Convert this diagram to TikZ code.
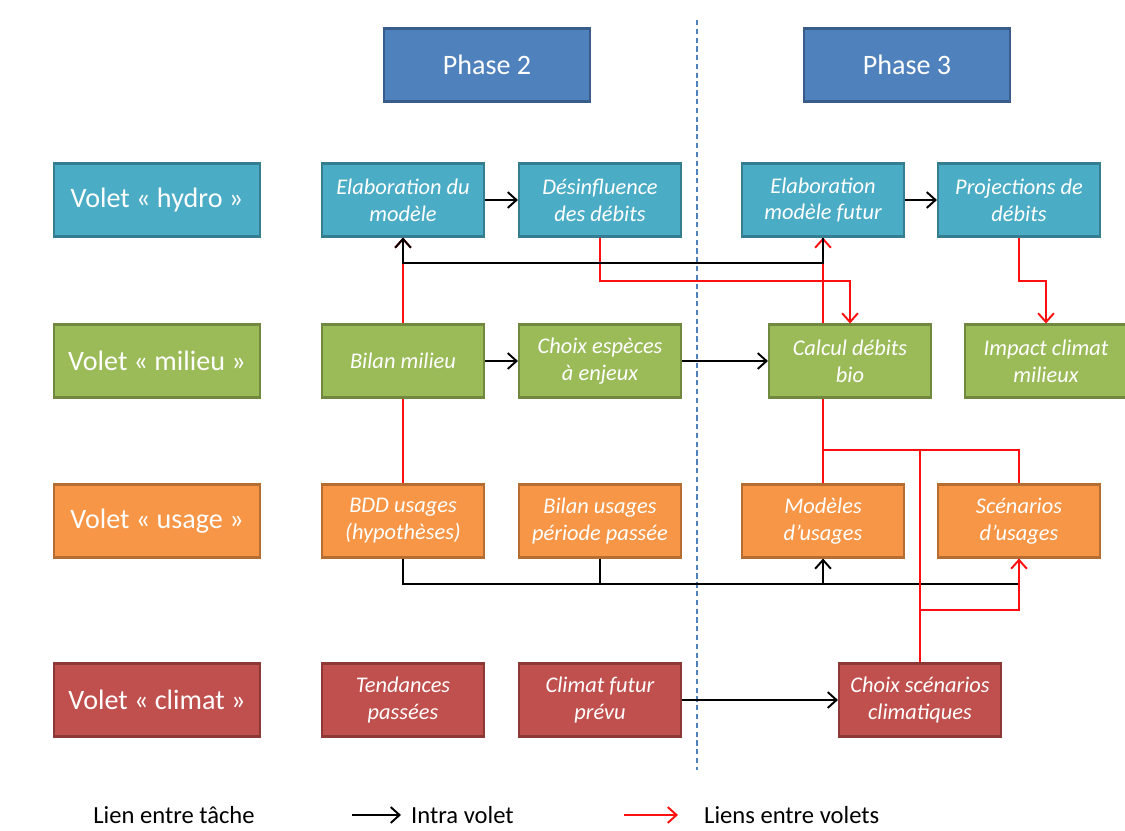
\documentclass[tikz,border=0pt]{standalone}
\usepackage{fontspec}
\setmainfont{Carlito}
\usetikzlibrary{arrows.meta}
\definecolor{phasefill}{HTML}{4F81BD}
\definecolor{phaseline}{HTML}{385D8A}
\definecolor{hydrofill}{HTML}{4BACC6}
\definecolor{hydroline}{HTML}{357D91}
\definecolor{milieufill}{HTML}{9BBB59}
\definecolor{milieuline}{HTML}{71893F}
\definecolor{usagefill}{HTML}{F79646}
\definecolor{usageline}{HTML}{B66D31}
\definecolor{climatfill}{HTML}{C0504D}
\definecolor{climatline}{HTML}{8C3836}
\definecolor{linkred}{HTML}{FF1010}
\tikzset{
  box/.style={draw, line width=1.2pt, minimum height=1.46cm, inner sep=1pt,
    align=center, text=white},
  task/.style={box, minimum width=3.24cm, font=\itshape\fontsize{12.75}{15.3}\selectfont},
  volet/.style={box, minimum width=4.12cm, font=\fontsize{16}{18}\selectfont},
  phase/.style={volet, fill=phasefill, draw=phaseline},
  hydro/.style={fill=hydrofill, draw=hydroline},
  milieu/.style={fill=milieufill, draw=milieuline},
  usage/.style={fill=usagefill, draw=usageline},
  climat/.style={fill=climatfill, draw=climatline},
  intra/.style={black, line width=1.1pt},
  inter/.style={linkred, line width=1.1pt},
  tip/.style={-{Straight Barb[length=5pt,width=9pt,line width=1.1pt]}},
  legend/.style={font=\fontsize{14}{16}\selectfont}
}
\begin{document}
\begin{tikzpicture}[x=0.02cm, y=-0.02cm]
  \useasboundingbox (0,0) rectangle (1125,831);
  % phases
  \node[phase] (p2) at (487,65) {Phase 2};
  \node[phase] (p3) at (907,65) {Phase 3};
  \draw[phasefill, line width=0.8pt, dash pattern=on 3pt off 2pt] (697,20) -- (697,770);
  % volets
  \node[volet, hydro]  (vh) at (157,200) {Volet « hydro »};
  \node[volet, milieu] (vm) at (157,361) {Volet « milieu »};
  \node[volet, usage]  (vu) at (157,521) {Volet « usage »};
  \node[volet, climat] (vc) at (157,700) {Volet « climat »};
  % hydro
  \node[task, hydro] (hA) at (403,200) {Elaboration du\\modèle};
  \node[task, hydro] (hB) at (600,200) {Désinfluence\\des débits};
  \node[task, hydro] (hC) at (823,200) {Elaboration\\modèle futur};
  \node[task, hydro] (hD) at (1019,200) {Projections de\\débits};
  % milieu
  \node[task, milieu] (mA) at (403,361) {Bilan milieu};
  \node[task, milieu] (mB) at (600,361) {Choix espèces\\à enjeux};
  \node[task, milieu] (mC) at (850,361) {Calcul débits\\bio};
  \node[task, milieu] (mD) at (1046,361) {Impact climat\\milieux};
  % usage
  \node[task, usage] (uA) at (403,521) {BDD usages\\(hypothèses)};
  \node[task, usage] (uB) at (600,521) {Bilan usages\\période passée};
  \node[task, usage] (uC) at (823,521) {Modèles\\d’usages};
  \node[task, usage] (uD) at (1019,521) {Scénarios\\d’usages};
  % climat
  \node[task, climat] (cA) at (403,700) {Tendances\\passées};
  \node[task, climat] (cB) at (600,700) {Climat futur\\prévu};
  \node[task, climat] (cC) at (920,700) {Choix scénarios\\climatiques};
  % junctions
  \coordinate (jr) at (823,450);
  \coordinate (jb) at (920,610);
  \coordinate (jk) at (823,583);
  % intra volet
  \draw[intra, tip] (hA) -- (hB);
  \draw[intra, tip] (hC) -- (hD);
  \draw[intra, tip] (mA) -- (mB);
  \draw[intra, tip] (mB) -- (mC);
  \draw[intra, tip] (cB) -- (cC);
  \draw[intra] (uA.south) -- ++(0,25) -| (uD.south);
  \draw[intra] (uB.south) -- ++(0,25);
  \draw[intra, tip] (jk) -- (uC.south);
  % entre volets
  \draw[inter] (uA.north) -- (mA.south);
  \draw[inter, tip] (mA.north) -- (hA.south);
  \draw[inter, tip] (mC.north -| hC.south) -- (hC.south);
  \draw[inter, tip] (hB.south) -- ++(0,43) -| (mC.north);
  \draw[inter, tip] (hD.south) -- ++(0,43) -| (mD.north);
  \draw[inter] (uC.north) -- (mC.south -| uC.north);
  \draw[inter] (jr) -| (uD.north);
  \draw[inter] (cC.north) -- (cC.north |- jr);
  \draw[inter, tip] (jb) -| (uD.south);
  \draw[intra, tip] (hC.south) -- ++(0,25) -| (hA.south);
  % legende
  \node[legend] (lg) at (174,815) {Lien entre tâche};
  \coordinate (la) at (352,815);
  \coordinate (lb) at (401,815);
  \coordinate (lc) at (624,815);
  \coordinate (ld) at (678,815);
  \draw[intra, tip] (la) -- (lb);
  \draw[inter, tip] (lc) -- (ld);
  \node[legend, anchor=west] (li) at (405,815) {Intra volet};
  \node[legend, anchor=west] (le) at (698,815) {Liens entre volets};
\end{tikzpicture}
\end{document}
